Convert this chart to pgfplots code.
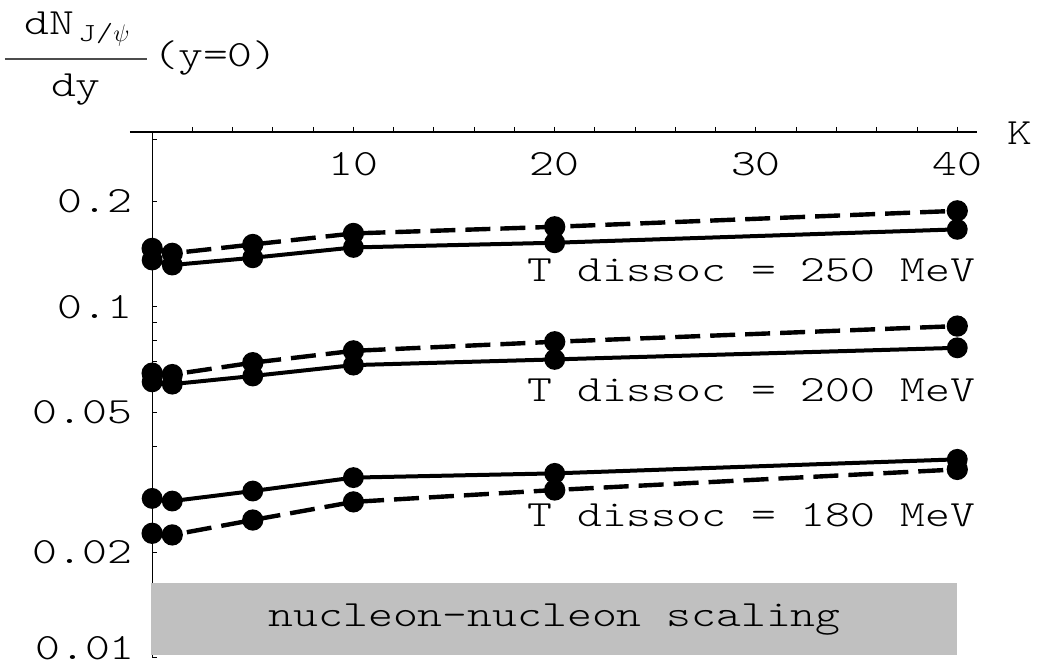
\documentclass[border=0pt]{standalone}
\usepackage{fontspec}
\setmonofont{lmmonolt10-regular.otf}[FakeStretch=1.28]
\usepackage{pgfplots}
\pgfplotsset{compat=1.18}
\definecolor{boxgray}{RGB}{192,192,192}
\pgfplotstableread{
x y
0 0.1359
1 0.1315
5 0.1379
10 0.1476
20 0.1522
40 0.1662
}\solidA
\pgfplotstableread{
x y
0 0.1467
1 0.1420
5 0.1505
10 0.1618
20 0.1690
40 0.1877
}\dashA
\pgfplotstableread{
x y
0 0.0611
1 0.0602
5 0.0635
10 0.0682
20 0.0708
40 0.0764
}\solidB
\pgfplotstableread{
x y
0 0.0647
1 0.0641
5 0.0693
10 0.0749
20 0.0795
40 0.0881
}\dashB
\pgfplotstableread{
x y
0 0.02844
1 0.02795
5 0.02985
10 0.0326
20 0.03352
40 0.03675
}\solidC
\pgfplotstableread{
x y
0 0.02262
1 0.02238
5 0.02468
10 0.0278
20 0.03005
40 0.0344
}\dashC
\begin{document}
\ttfamily\fontsize{18.5}{22}\selectfont
\begin{tikzpicture}
\path[use as bounding box] (-65pt,-4.65pt) rectangle (453.5pt,328.85pt);
\begin{axis}[
  at={(0pt,0pt)}, anchor=south west,
  scale only axis, width=423.7pt, height=262.85pt,
  xmin=-1.1, xmax=41, ymin=0.01, ymax=0.3148, ymode=log,
  axis x line=top, axis y line=middle,
  axis line style={-, line width=0.6pt, black},
  clip=false,
  tick align=center,
  major tick length=2.6pt, minor tick length=2.6pt,
  xtick={10,20,30,40}, xticklabels={10,20,30,40},
  minor xtick={2,4,...,40},
  ytick={0.01,0.02,0.05,0.1,0.2}, yticklabels={,0.02,0.05,0.1,0.2},
  minor ytick={0.03,0.04,0.06,0.07,0.08,0.09,0.3},
  xtick style={yshift=1.3pt, line width=0.5pt, black},
  ytick style={xshift=1.3pt, line width=0.5pt, black},
  xticklabel style={anchor=center, yshift=-17.5pt, inner sep=0pt},
  yticklabel style={anchor=east, inner sep=0pt, xshift=-8.5pt},
]
\addplot[black, line width=2pt, mark=*, mark size=4.2pt, mark options={solid}] table[x=x,y=y] {\solidA};
\addplot[black, line width=2.2pt, dash pattern=on 12.5pt off 5pt, mark=*, mark size=4.2pt, mark options={solid}] table[x=x,y=y] {\dashA};
\addplot[black, line width=2pt, mark=*, mark size=4.2pt, mark options={solid}] table[x=x,y=y] {\solidB};
\addplot[black, line width=2.2pt, dash pattern=on 12.5pt off 5pt, mark=*, mark size=4.2pt, mark options={solid}] table[x=x,y=y] {\dashB};
\addplot[black, line width=2pt, mark=*, mark size=4.2pt, mark options={solid}] table[x=x,y=y] {\solidC};
\addplot[black, line width=2.2pt, dash pattern=on 12.5pt off 5pt, mark=*, mark size=4.2pt, mark options={solid}] table[x=x,y=y] {\dashC};
\fill[boxgray] (axis cs:-0.05,0.01015) rectangle (axis cs:40,0.0163);
\node at (axis cs:20,0.0128) {nucleon-nucleon scaling};
\node[anchor=base east, inner sep=0pt, xshift=-8.5pt, yshift=-1pt] at (axis cs:0,0.01) {0.01};
\node[anchor=east, inner sep=0pt] at (axis cs:40.9,0.1272) {T dissoc = 250 MeV};
\node[anchor=east, inner sep=0pt] at (axis cs:40.9,0.0579) {T dissoc = 200 MeV};
\node[anchor=east, inner sep=0pt] at (axis cs:40.9,0.02551) {T dissoc = 180 MeV};
\node at (axis cs:43.1,0.3126) {K};
\end{axis}
% title: dN_{J/psi}/dy (y=0)
\node[anchor=base west, inner sep=0pt] at (-53pt,311.35pt) {dN};
\node[anchor=base west, inner sep=0pt] at (-26pt,307.85pt) {\fontsize{13}{14}\selectfont J/$\psi$};
\draw[line width=0.6pt, black!70] (-62.5pt,299.35pt) -- (8.5pt,299.35pt);
\node[anchor=base, inner sep=0pt] at (-27pt,280.35pt) {dy};
\node[anchor=base west, inner sep=0pt] at (11.5pt,295.35pt) {(y=0)};
\end{tikzpicture}
\end{document}
